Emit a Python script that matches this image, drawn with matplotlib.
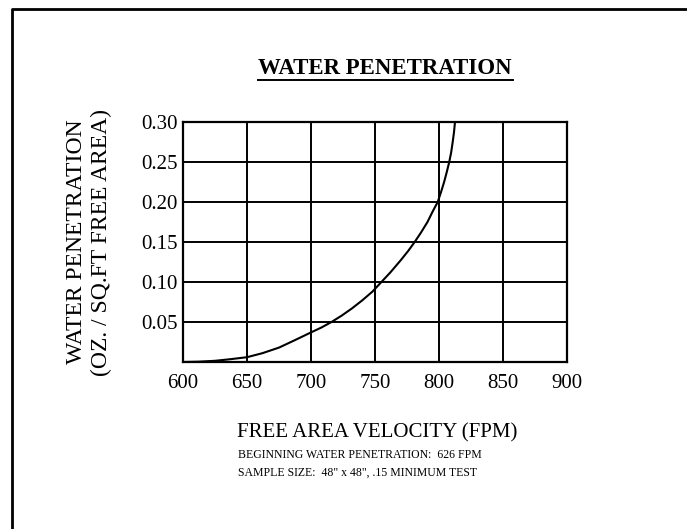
import matplotlib
matplotlib.use("Agg")
import matplotlib.pyplot as plt
from matplotlib.lines import Line2D

plt.rcParams['font.family'] = ['Liberation Serif', 'DejaVu Serif']

# readings
velocity = [600, 612, 625, 637, 650, 662, 675, 687, 700, 708, 716, 724, 732, 740, 748, 755,
            762, 770, 776, 781, 786, 791, 795, 799, 801.5, 804, 806, 808, 809.5, 810.7, 811.7, 812.5]
penetration = [0.0, 0.0004, 0.0015, 0.0035, 0.006, 0.011, 0.018, 0.027, 0.037, 0.043, 0.05, 0.058,
               0.067, 0.077, 0.088, 0.10, 0.112, 0.127, 0.139, 0.15, 0.162, 0.175, 0.188, 0.20,
               0.212, 0.225, 0.237, 0.25, 0.262, 0.275, 0.287, 0.30]

x_ticks = [600, 650, 700, 750, 800, 850, 900]
y_ticks = [0.05, 0.10, 0.15, 0.20, 0.25, 0.30]
y_labels = ['0.05', '0.10', '0.15', '0.20', '0.25', '0.30']

W, H = 687, 529
fig = plt.figure(figsize=(W / 100, H / 100), dpi=100)
ax = fig.add_axes([183 / W, 1 - 362 / H, (567 - 183) / W, (362 - 122) / H])

ax.plot(velocity, penetration, color='black', lw=1.5)
ax.set_xlim(600, 900)
ax.set_ylim(0, 0.30)
ax.set_xticks(x_ticks)
ax.set_yticks(y_ticks)
ax.set_yticklabels(y_labels)
ax.grid(True, color='black', lw=1.4)
ax.tick_params(length=0, labelsize=15)
ax.tick_params(axis='x', pad=9)
ax.tick_params(axis='y', pad=4)
for s in ax.spines.values():
    s.set_linewidth(1.6)

ax.set_ylabel('WATER PENETRATION\n(OZ. / SQ.FT FREE AREA)', fontsize=17, labelpad=21, linespacing=1.2)

# titles and notes
fig.text(385 / W, 1 - 68 / H, 'WATER PENETRATION', ha='center', va='center',
         fontsize=16.5, fontweight='bold')
fig.add_artist(Line2D([258 / W, 513 / W], [1 - 80 / H, 1 - 80 / H], color='black', lw=1.4))
fig.text(377 / W, 1 - 433 / H, 'FREE AREA VELOCITY (FPM)', ha='center', va='center', fontsize=15)
fig.text(238 / W, 1 - 455 / H, 'BEGINNING WATER PENETRATION:  626 FPM', ha='left', va='center', fontsize=8.5)
fig.text(238 / W, 1 - 473 / H, 'SAMPLE SIZE:  48" x 48", .15 MINIMUM TEST', ha='left', va='center', fontsize=8.5)

# page border (top and left only)
fig.add_artist(Line2D([12 / W, 12 / W, 1], [0, 1 - 9 / H, 1 - 9 / H], color='black', lw=2))

fig.savefig('out.png', dpi=100)
